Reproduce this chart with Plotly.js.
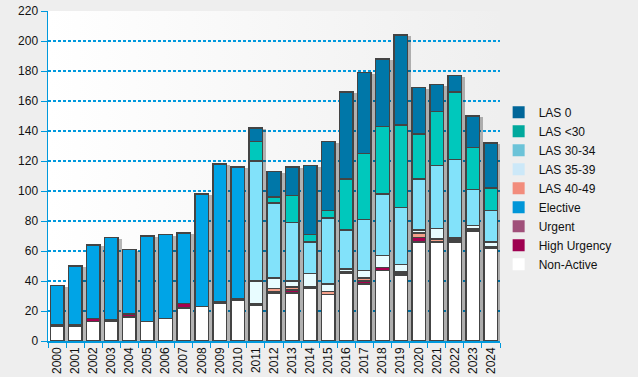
<!DOCTYPE html>
<html>
<head>
<meta charset="utf-8">
<script src="https://cdn.plot.ly/plotly-3.0.1.min.js"></script>
<style>
html,body{margin:0;padding:0;background:#eeeeee;}
#chart{width:638px;height:377px;}
.barlayer{filter:drop-shadow(3px 2px 0px rgba(0,0,0,0.28));}
</style>
</head>
<body>
<div id="chart"></div>
<script>
const years = ['2000','2001','2002','2003','2004','2005','2006','2007','2008','2009','2010','2011','2012','2013','2014','2015','2016','2017','2018','2019','2020','2021','2022','2023','2024'];
const nonActive   = [10,10,13,13,16,13,15,22,23,25,27,24,32,32,35,31,45,38,47,44,66,66,66,73,62];
const highUrgency = [1,1,2,1,2,null,null,3,null,1,1,1,1,2,1,null,1,2,2,1,3,null,1,1,1];
const urgent      = [null,null,null,null,null,null,null,null,null,null,null,null,null,null,null,null,null,null,null,null,null,null,1,null,null];
const elective    = [26,39,49,55,43,57,56,47,75,92,88,null,null,null,null,null,null,null,null,null,null,null,null,null,null];
const las4049     = [null,null,null,null,null,null,null,null,null,null,null,null,2,2,null,2,null,2,null,1,3,2,null,1,null];
const las3539     = [null,null,null,null,null,null,null,null,null,null,null,15,7,4,9,5,2,5,8,5,2,7,1,2,3];
const las3034     = [null,null,null,null,null,null,null,null,null,null,null,80,50,39,21,44,26,34,41,38,34,42,52,24,21];
const lasLt30     = [null,null,null,null,null,null,null,null,null,null,null,13,4,18,5,5,34,44,45,55,30,36,45,28,15];
const las0        = [null,null,null,null,null,null,null,null,null,null,null,9,17,19,46,46,58,54,45,60,31,18,11,21,30];

const series = [
  {name:'Non-Active', y:nonActive, bar:'#ffffff', leg:'#ffffff'},
  {name:'High Urgency', y:highUrgency, bar:'#a8004f', leg:'#9e0050'},
  {name:'Urgent', y:urgent, bar:'#4a3a48', leg:'#a0507a'},
  {name:'Elective', y:elective, bar:'#00a4e6', leg:'#0096d8'},
  {name:'LAS 40-49', y:las4049, bar:'#f4a08a', leg:'#f28c7c'},
  {name:'LAS 35-39', y:las3539, bar:'#e8fcff', leg:'#cce8f8'},
  {name:'LAS 30-34', y:las3034, bar:'#82e2fa', leg:'#6cc3d8'},
  {name:'LAS <30', y:lasLt30, bar:'#00c8bc', leg:'#00a99d'},
  {name:'LAS 0', y:las0, bar:'#0077a8', leg:'#006699'}
];

const traces = [];
series.forEach(s => {
  traces.push({type:'bar', x:years, y:s.y, name:s.name, showlegend:false,
    marker:{color:s.bar, line:{color:'#444444', width:1.5}}, hoverinfo:'name+y'});
});
series.forEach(s => {
  traces.push({type:'bar', x:[years[0]], y:[0], name:s.name, showlegend:true,
    marker:{color:s.leg, line:{width:0}}, hoverinfo:'skip'});
});

const grad = 'data:image/svg+xml;utf8,' + encodeURIComponent(
 '<svg xmlns="http://www.w3.org/2000/svg" width="100" height="100" preserveAspectRatio="none"><defs><linearGradient id="g" x1="0" y1="0" x2="1" y2="0"><stop offset="0" stop-color="#ffffff"/><stop offset="1" stop-color="#efefef"/></linearGradient></defs><rect width="100" height="100" fill="url(#g)"/></svg>');

const layout = {
  width:638, height:377,
  margin:{l:48, r:138, t:11, b:36},
  paper_bgcolor:'#eeeeee',
  plot_bgcolor:'rgba(0,0,0,0)',
  barmode:'stack',
  bargap:0.25,
  font:{family:'"Liberation Sans", Arial, sans-serif', size:12, color:'#111111'},
  images:[{source:grad, xref:'paper', yref:'paper', x:0, y:1, sizex:1, sizey:1, sizing:'stretch', layer:'below', xanchor:'left', yanchor:'top'}],
  xaxis:{type:'category', tickangle:-90, showline:true, linecolor:'#0099dd', linewidth:1.5,
    ticks:'outside', tickson:'boundaries', ticklen:5, tickcolor:'#0099dd', showgrid:false,
    tickfont:{size:12}},
  yaxis:{range:[0,220], dtick:20, showline:true, linecolor:'#0099dd', linewidth:1.5,
    ticks:'outside', ticklen:6, tickcolor:'#0099dd', showgrid:true, gridcolor:'#0099dd',
    griddash:'3px,2px', gridwidth:1.5, zeroline:false, tickfont:{size:12}},
  legend:{x:0.997, xanchor:'left', y:0.463, yanchor:'middle', traceorder:'reversed',
    bgcolor:'rgba(0,0,0,0)', font:{size:12}, itemwidth:30, tracegroupgap:0}
};

Plotly.newPlot('chart', traces, layout, {displayModeBar:false, staticPlot:true});
</script>
</body>
</html>
